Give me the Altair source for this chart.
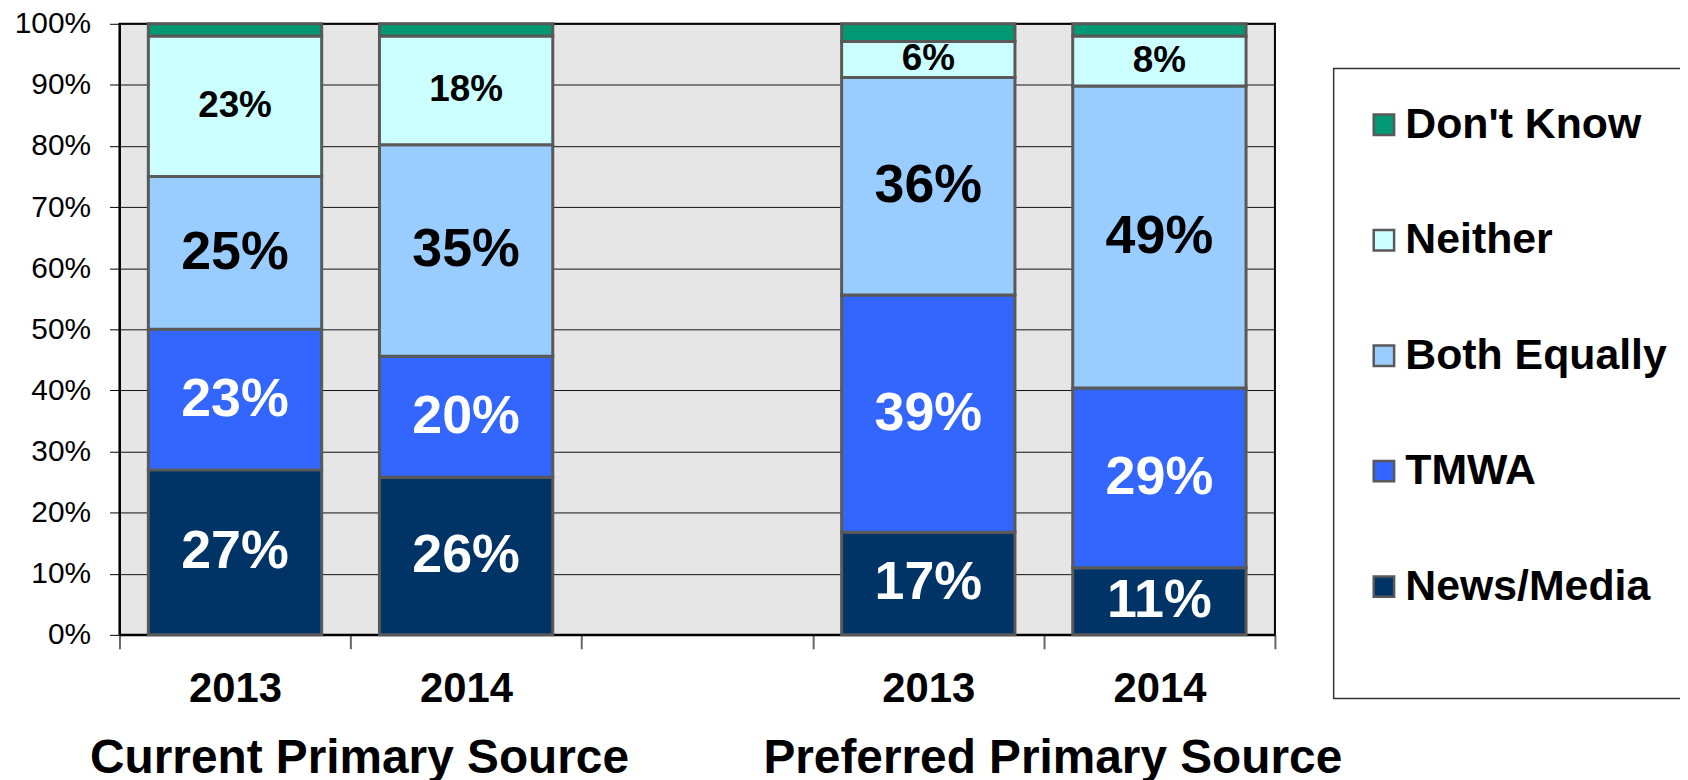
import altair as alt
import pandas as pd

# ---- data ----
bar_keys = ["Current|2013", "Current|2014", "Preferred|2013", "Preferred|2014"]
x_domain = ["Current|2013", "Current|2014", "Gap|", "Preferred|2013", "Preferred|2014"]
group_titles = ["Current Primary Source", "Preferred Primary Source"]
group_anchor = ["Current|2014", "Preferred|2014"]

categories = ["News/Media", "TMWA", "Both Equally", "Neither", "Don't Know"]
news = [27.0, 25.8, 16.8, 11.0]
tmwa = [23.0, 19.8, 38.8, 29.4]
both = [25.0, 34.6, 35.6, 49.4]
neither = [23.0, 17.8, 5.9, 8.2]
dont_know = [2.0, 2.0, 2.9, 2.0]

legend_order = ["Don't Know", "Neither", "Both Equally", "TMWA", "News/Media"]
legend_colors = ["#009973", "#CCFFFF", "#99CCFF", "#3366FF", "#003366"]

y_ticks = [0, 10, 20, 30, 40, 50, 60, 70, 80, 90, 100]

# ---- build table ----
series = [news, tmwa, both, neither, dont_know]
rows = []
for i, key in enumerate(bar_keys):
    base = 0.0
    for j, cat in enumerate(categories):
        v = series[j][i]
        rows.append({"key": key, "cat": cat, "order": j, "value": v,
                     "y0": base, "y1": base + v, "mid": base + v / 2,
                     "label": f"{round(v)}%"})
        base += v
df = pd.DataFrame(rows)
groups_df = pd.DataFrame({"key": group_anchor, "title": group_titles})

W, H = 1161, 614
FONT = "Liberation Sans"

xscale = alt.Scale(domain=x_domain, paddingInner=0, paddingOuter=0)
yscale = alt.Scale(domain=[0, 100], nice=False)

base = alt.Chart(df)

bars = base.mark_bar(width=alt.RelativeBandSize(0.75), stroke="#595959", strokeWidth=3).encode(
    x=alt.X("key:N", scale=xscale, sort=x_domain, title=None,
            axis=alt.Axis(labelExpr="split(datum.value, '|')[1]", labelAngle=0,
                          labelFont=FONT, labelFontSize=42, labelFontWeight="bold",
                          labelColor="black", tickBand="extent", tickSize=14,
                          tickColor="#666666", tickWidth=2, labelPadding=20,
                          domainColor="black", domainWidth=2, grid=False)),
    y=alt.Y("y0:Q", scale=yscale, title=None,
            axis=alt.Axis(values=y_ticks, labelExpr="datum.value + '%'",
                          labelFont=FONT, labelFontSize=30, labelColor="black",
                          tickSize=10, tickColor="black", tickWidth=1, labelPadding=19,
                          domainColor="black", domainWidth=2,
                          grid=True, gridColor="#111111", gridWidth=1)),
    y2="y1:Q",
    color=alt.Color("cat:N", scale=alt.Scale(domain=legend_order, range=legend_colors),
                    legend=alt.Legend(title=None, orient="none", legendX=1237, legendY=80,
                                      symbolType="square", symbolSize=420, symbolOffset=12,
                                      symbolStrokeColor="#595959", symbolStrokeWidth=2.5,
                                      symbolOpacity=1,
                                      labelFont=FONT, labelFontSize=43, labelFontWeight="bold",
                                      labelColor="black", labelOffset=0, rowPadding=72,
                                      labelLimit=400, padding=0)),
    order=alt.Order("order:Q"),
)

# white legend frame behind the legend entries (decoration, cut by the page edge)
frame = alt.Chart(pd.DataFrame({"f": [0]})).mark_rect(
    fill="white", stroke="#333333", strokeWidth=1.5
).encode(x=alt.value(1220), x2=alt.value(1620), y=alt.value(45), y2=alt.value(678))

def labels(cats, color, size):
    return base.transform_filter(
        alt.FieldOneOfPredicate(field="cat", oneOf=cats)
    ).mark_text(font=FONT, fontWeight="bold", fontSize=size, color=color,
                baseline="middle", align="center").encode(
        x=alt.X("key:N", scale=xscale, sort=x_domain),
        y=alt.Y("mid:Q", scale=yscale),
        text="label:N",
    )

white_big = labels(["News/Media", "TMWA"], "white", 54)
black_big = labels(["Both Equally"], "black", 54)
black_small = labels(["Neither"], "black", 37)

group_text = alt.Chart(groups_df).mark_text(
    font=FONT, fontWeight="bold", fontSize=48, color="black",
    baseline="middle", align="center", dx=9
).encode(
    x=alt.X("key:N", scale=xscale, sort=x_domain, bandPosition=0),
    y=alt.value(H + 125),
    text="title:N",
)

chart = alt.layer(bars, white_big, black_big, black_small, group_text, frame).properties(
    width=W, height=H,
    autosize=alt.AutoSizeParams(type="none"),
    padding={"left": 112, "top": 14, "right": 407, "bottom": 150},
).configure(
    background="white",
    view=alt.ViewConfig(fill="#E6E6E6", stroke="black", strokeWidth=2),
)

chart.save("out.html", embed_options={"renderer": "svg", "actions": False})
